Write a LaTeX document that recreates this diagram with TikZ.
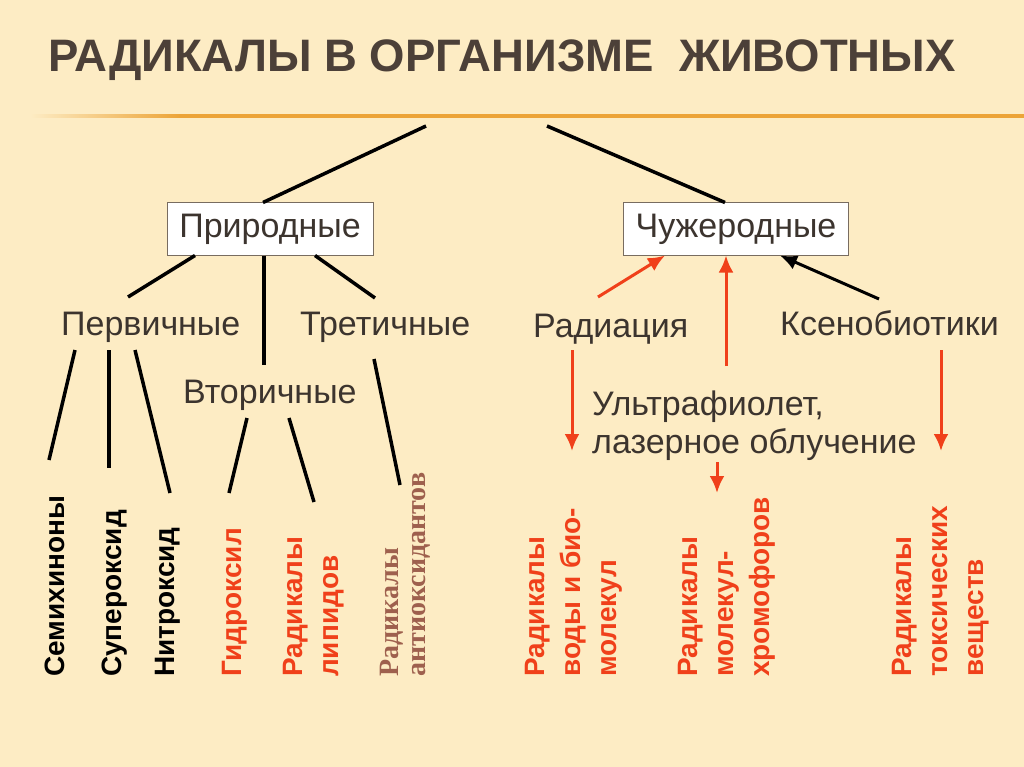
\documentclass[tikz,border=0pt]{standalone}
\usepackage{fontspec}
\setmainfont{Liberation Sans}
\newfontfamily\titlefont{Liberation Sans}
\newfontfamily\timesfont{Liberation Serif}
\usepackage{tikz}
\usetikzlibrary{arrows.meta}
\usetikzlibrary{calc}

\definecolor{paper}{RGB}{253,236,196}
\definecolor{rule}{RGB}{236,164,56}
\definecolor{ink}{RGB}{60,52,46}
\definecolor{titleink}{RGB}{76,64,56}
\definecolor{boxline}{RGB}{120,108,96}
\definecolor{fire}{RGB}{240,64,26}
\definecolor{brick}{RGB}{158,96,78}

\begin{document}
\begin{tikzpicture}
    [%%%%%%%%%%%%%%%%%%%%%%%%%%%%%%
        x=1pt, y=-1pt,
        lbl/.style={anchor=base west, inner sep=0pt, text=ink, font=\fontsize{34}{38}\selectfont},
        box/.style={rectangle, draw=boxline, line width=1pt, fill=white, text=ink,
                    minimum height=52pt, inner sep=0pt, font=\fontsize{34}{38}\selectfont},
        vtext/.style={rotate=90, anchor=north west, inner sep=0pt, align=left,
                      font=\fontsize{28}{36}\selectfont\bfseries},
        link/.style={line width=3.5pt, draw=black},
        redarrow/.style={line width=3pt, draw=fire, -{Latex[length=17pt,width=15pt]}},
        blackarrow/.style={line width=3pt, draw=black, -{Latex[length=17pt,width=15pt]}}
    ]%%%%%%%%%%%%%%%%%%%%%%%%%%%%%%
\useasboundingbox (0,0) rectangle (1024,767);
\fill[paper] (0,0) rectangle (1024,767);
\shade[left color=paper, right color=rule] (30,114.5) rectangle (180,117.5);
\fill[rule] (179,114) rectangle (1024,118);

\node[anchor=base west, inner sep=0pt, text=titleink,
      font=\fontsize{45.5}{50}\titlefont\bfseries] (title) at (48,72) {РАДИКАЛЫ В ОРГАНИЗМЕ\ \ ЖИВОТНЫХ};

% boxes
\node[box, minimum width=206pt] (prir) at (270,229) {Природные};
\node[box, minimum width=225pt] (chuzh) at (736,229) {Чужеродные};

% second level
\node[lbl] (perv) at (61,335) {Первичные};
\node[lbl] (tret) at (300,335) {Третичные};
\node[lbl] (vtor) at (183,403) {Вторичные};
\node[lbl] (rad) at (533,337) {Радиация};
\node[lbl] (ksen) at (780,335) {Ксенобиотики};
\node[lbl, align=left] (uf) at (592,453) {Ультрафиолет,\\лазерное облучение};

% radicals
\node[vtext] (semi) at (45,677) {Семихиноны};
\node[vtext] (super) at (102,677) {Супероксид};
\node[vtext] (nitro) at (155,677) {Нитроксид};
\node[vtext, text=fire] (gidro) at (222,677) {Гидроксил};
\node[vtext, text=fire] (lipid) at (283,677) {Радикалы\\липидов};
\node[vtext, text=brick, font=\fontsize{28}{27}\timesfont\bfseries] (antiox) at (380,677) {Радикалы\\антиоксидантов};
\node[vtext, text=fire] (voda) at (525,677) {Радикалы\\воды и био-\\молекул};
\node[vtext, text=fire] (chromo) at (678,677) {Радикалы\\молекул-\\хромофоров};
\node[vtext, text=fire] (toks) at (892,677) {Радикалы\\токсических\\веществ};

% free ends
\coordinate (hubL) at (426,126);
\coordinate (hubR) at (547,126);
\coordinate (pervTop) at (128,297);
\coordinate (vtorTop) at (264,365);
\coordinate (tretTop) at (375,298);
\coordinate (p1) at (75,350);
\coordinate (p2) at (109,350);
\coordinate (p3) at (135,350);
\coordinate (semiTop) at (49,460);
\coordinate (superTop) at (109,468);
\coordinate (nitroTop) at (170,493);
\coordinate (v1) at (247,418);
\coordinate (v2) at (289,418);
\coordinate (gidroTop) at (229,493);
\coordinate (lipidTop) at (314,502);
\coordinate (t1) at (374,359);
\coordinate (antioxTop) at (400,485);
\coordinate (radTop) at (598,297);
\coordinate (ufTop) at (726,366);
\coordinate (ksenTop) at (879,299);
\coordinate (radBot) at (572,350);
\coordinate (radEnd) at (572,451);
\coordinate (ksenBot) at (941,350);
\coordinate (ksenEnd) at (941,451);
\coordinate (ufBot) at (717,462);
\coordinate (ufEnd) at (717,493);

% tree
\draw[link] (hubL) -- ($(prir.north)+(-7,0)$);
\draw[link] (hubR) -- ($(chuzh.north)+(-11,0)$);
\draw[link] ($(prir.south)+(-75,0)$) -- (pervTop);
\draw[link] ($(prir.south)+(-6,0)$) -- (vtorTop);
\draw[link] ($(prir.south)+(45,0)$) -- (tretTop);
\draw[link] (p1) -- (semiTop);
\draw[link] (p2) -- (superTop);
\draw[link] (p3) -- (nitroTop);
\draw[link] (v1) -- (gidroTop);
\draw[link] (v2) -- (lipidTop);
\draw[link] (t1) -- (antioxTop);

% sources
\draw[redarrow] (radTop) -- ($(chuzh.south)+(-71,0)$);
\draw[redarrow] (ufTop) -- ($(chuzh.south)+(-10,0)$);
\draw[blackarrow] (ksenTop) -- ($(chuzh.south)+(44,0)$);
\draw[redarrow] (radBot) -- (radEnd);
\draw[redarrow] (ksenBot) -- (ksenEnd);
\draw[redarrow] (ufBot) -- (ufEnd);

\end{tikzpicture}
\end{document}
